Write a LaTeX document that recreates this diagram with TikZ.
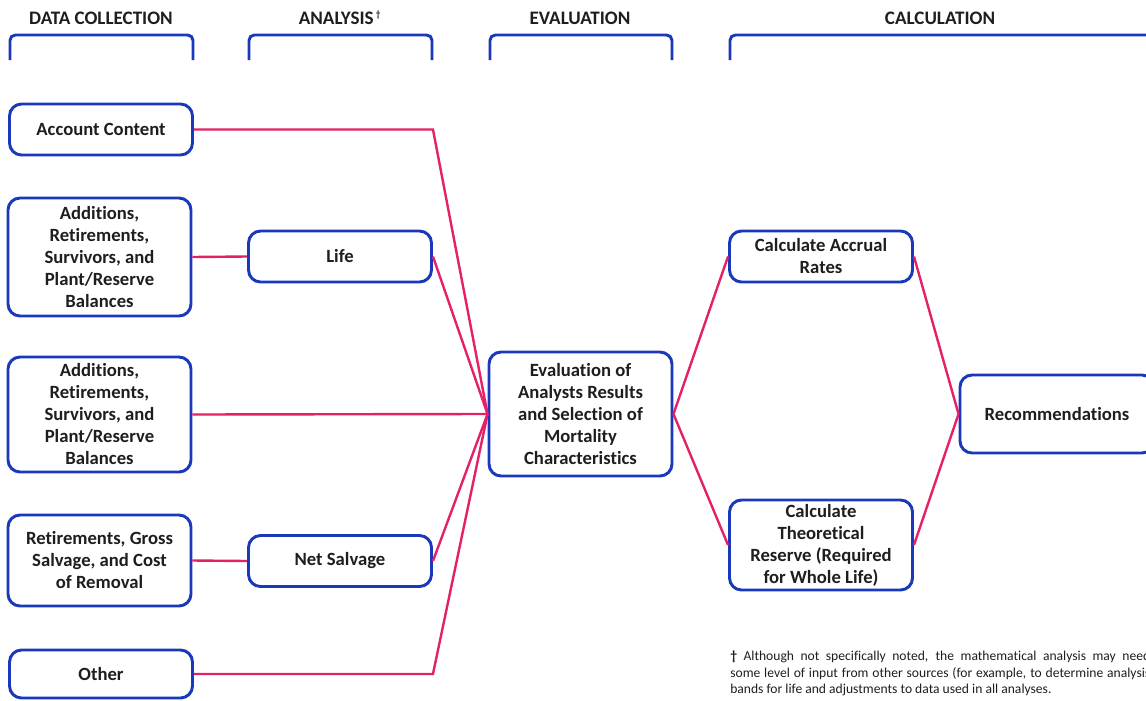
\documentclass[tikz,border=0pt]{standalone}
\usepackage{fontspec}
\setmainfont[Ligatures=NoCommon]{Carlito}
\usetikzlibrary{backgrounds}
\definecolor{boxblue}{RGB}{26,56,186}
\definecolor{linkpink}{RGB}{228,32,104}
\definecolor{inkgray}{RGB}{30,30,30}

\begin{document}
\begin{tikzpicture}[x=0.75pt, y=-0.75pt]
\tikzstyle{basic}=[draw=boxblue, line width=2.2pt, rounded corners=9pt, fill=white, text=inkgray, font=\fontsize{14}{16.5}\selectfont\bfseries, align=center, inner sep=2pt]
\tikzstyle{box}=[basic, minimum width=137.25pt, minimum height=38.25pt]
\tikzstyle{header}=[text=inkgray, font=\fontsize{14.3}{16}\selectfont\bfseries]
\tikzstyle{bracket}=[draw=boxblue, line width=2.2pt, rounded corners=4pt]
\tikzstyle{edgestyle}=[draw=linkpink, line width=1.8pt]
\useasboundingbox (0,0) rectangle (1146,700);
\clip (0,0) rectangle (1146,700);

% headers
\node[header] (hd0) at (101,18) {DATA COLLECTION};
\node[header] (hd1) at (340,18) {ANALYSIS\textsuperscript{\,\fontsize{7}{7}\selectfont\dag}};
\node[header] (hd2) at (580,18) {EVALUATION};
\node[header] (hd3) at (940,18) {CALCULATION};
\draw[bracket] (10,60) -- (10,35) -- (193,35) -- (193,60);
\draw[bracket] (249,60) -- (249,35) -- (432,35) -- (432,60);
\draw[bracket] (490,60) -- (490,35) -- (672,35) -- (672,60);
\draw[bracket] (730,60) -- (730,35) -- (1160,35);

% data collection
\node[box] (dc0) at (101,129.5) {Account Content};
\node[box, minimum height=88.5pt] (dc1) at (99.5,257) {Additions,\\Retirements,\\Survivors, and\\Plant/Reserve\\Balances};
\node[box, minimum height=86.25pt] (dc2) at (99.5,414.5) {Additions,\\Retirements,\\Survivors, and\\Plant/Reserve\\Balances};
\node[box, minimum height=68.25pt] (dc3) at (99.5,560.5) {Retirements, Gross\\Salvage, and Cost\\of Removal};
\node[box, minimum height=36pt] (dc4) at (101,674) {Other};

% analysis
\node[box] (an0) at (340,256.5) {Life};
\node[box] (an1) at (340,561) {Net Salvage};

% evaluation
\node[box, minimum height=93pt] (ev0) at (580.5,414) {Evaluation of\\Analysts Results\\and Selection of\\Mortality\\Characteristics};

% calculation
\node[box] (ca0) at (821,256.5) {Calculate Accrual\\Rates};
\node[box, minimum height=67.5pt] (ca1) at (821,545) {Calculate\\Theoretical\\Reserve (Required\\for Whole Life)};
\node[box, minimum width=145.5pt, minimum height=58.5pt] (rec0) at (1057,414) {Recommendations};

\draw[edgestyle] (dc0.east) -- (dc0.east -| an0.east) -- (ev0.west);
\draw[edgestyle] (dc1.east) -- (an0.west);
\draw[edgestyle] (an0.east) -- (ev0.west);
\draw[edgestyle] (dc2.east) -- (ev0.west);
\draw[edgestyle] (dc3.east) -- (an1.west);
\draw[edgestyle] (an1.east) -- (ev0.west);
\draw[edgestyle] (dc4.east) -- (dc4.east -| an1.east) -- (ev0.west);
\draw[edgestyle] (ev0.east) -- (ca0.west);
\draw[edgestyle] (ev0.east) -- (ca1.west);
\draw[edgestyle] (ca0.east) -- (rec0.west);
\draw[edgestyle] (ca1.east) -- (rec0.west);

% footnote
\node[anchor=north west, text=inkgray, text width=315pt, align=justify, inner sep=0pt, font=\fontsize{10.2}{12.4}\selectfont] (note0) at (730,651) {\textbf{\dag} Although not specifically noted, the mathematical analysis may need\linebreak some level of input from other sources (for example, to determine analysis\linebreak bands for life and adjustments to data used in all analyses.};
\end{tikzpicture}
\end{document}
